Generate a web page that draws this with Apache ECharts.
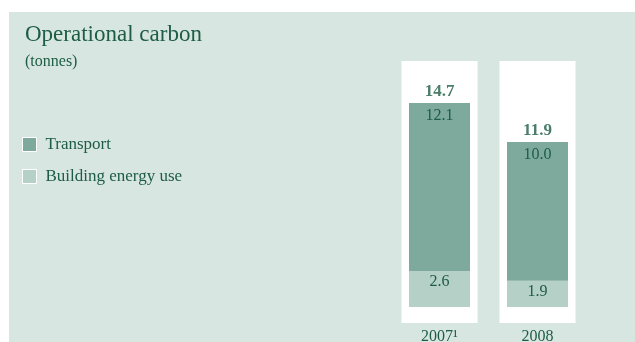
<!DOCTYPE html>
<html>
<head>
<meta charset="utf-8">
<script src="https://cdn.jsdelivr.net/npm/echarts@6/dist/echarts.min.js"></script>
<style>
html,body{margin:0;padding:0;background:#fff;}
#chart{width:635px;height:342px;}
</style>
</head>
<body>
<div id="chart"></div>
<script>
const categories = ['2007\u00B9', '2008'];
const transport = [12.1, 10.0];
const building = [2.6, 1.9];
const totals = [14.7, 11.9];
const columnBack = [1, 1];

const textColor = '#1d5c45';
const font = '"Liberation Serif", "DejaVu Serif", serif';

const chart = echarts.init(document.getElementById('chart'), null, {renderer: 'canvas'});
chart.setOption({
  backgroundColor: '#ffffff',
  animation: false,
  textStyle: {fontFamily: font, color: textColor},
  graphic: [{
    type: 'rect', left: 9, top: 12, z: -100, silent: true,
    shape: {width: 626, height: 330},
    style: {fill: '#d8e6e1'}
  }],
  title: {
    text: 'Operational carbon',
    subtext: '(tonnes)',
    left: 20, top: 18, itemGap: 8,
    textStyle: {fontFamily: font, fontSize: 23, fontWeight: 'normal', color: textColor},
    subtextStyle: {fontFamily: font, fontSize: 16, color: textColor}
  },
  legend: {
    orient: 'vertical', left: 17, top: 131, itemGap: 15,
    icon: 'rect', itemWidth: 14, itemHeight: 14,
    data: ['Transport', 'Building energy use'],
    itemStyle: {borderColor: '#ffffff', borderWidth: 1},
    textStyle: {fontFamily: font, fontSize: 17, color: textColor, padding: [0, 0, 0, 4]},
    selectedMode: false
  },
  grid: [
    {left: 390.5, width: 196, top: 85, bottom: 35, outerBoundsMode: 'none', containLabel: false},
    {left: 390.5, width: 196, top: 61, bottom: 19, outerBoundsMode: 'none', containLabel: false}
  ],
  xAxis: [
    {type: 'category', gridIndex: 0, data: categories,
     axisLine: {show: false}, axisTick: {show: false},
     axisLabel: {margin: 22, fontFamily: font, fontSize: 16, color: textColor}},
    {type: 'category', gridIndex: 1, data: categories, show: false}
  ],
  yAxis: [
    {type: 'value', gridIndex: 0, min: 0, max: 16, show: false},
    {type: 'value', gridIndex: 1, min: 0, max: 1, show: false}
  ],
  series: [
    {type: 'bar', name: 'back', xAxisIndex: 1, yAxisIndex: 1, data: columnBack,
     barWidth: 76, itemStyle: {color: '#ffffff'}, silent: true, z: 1},
    {type: 'bar', name: 'Building energy use', stack: 'c', data: building, barWidth: 61, z: 3,
     itemStyle: {color: '#b5d0c7'},
     label: {show: true, position: 'insideTop', distance: 3, fontFamily: font, fontSize: 16, color: textColor,
             formatter: p => p.value.toFixed(1)}},
    {type: 'bar', name: 'Transport', stack: 'c', data: transport, barWidth: 61, z: 3,
     itemStyle: {color: '#7daa9c'},
     label: {show: true, position: 'insideTop', distance: 5, fontFamily: font, fontSize: 16, color: textColor,
             formatter: p => p.value.toFixed(1)}},
    {type: 'scatter', name: 'total', data: totals, symbolSize: 0, z: 4, silent: true,
     label: {show: true, position: 'top', distance: 3, fontFamily: font, fontSize: 17, fontWeight: 'bold', color: textColor,
             formatter: p => p.value.toFixed(1)}}
  ]
});
</script>
</body>
</html>
